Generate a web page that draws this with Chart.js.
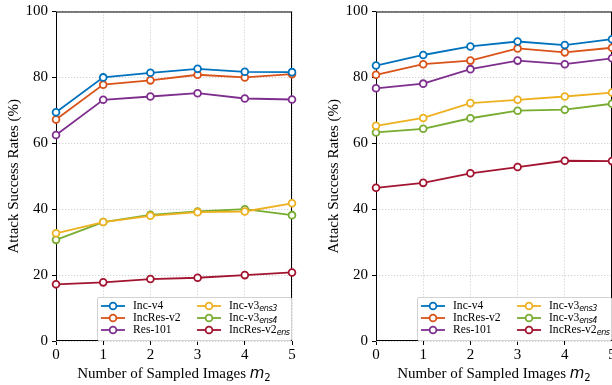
<!DOCTYPE html>
<html>
<head>
<meta charset="utf-8">
<script src="https://cdn.jsdelivr.net/npm/chart.js@4/dist/chart.umd.min.js"></script>
<style>
  html, body { margin: 0; padding: 0; background: #fff; overflow: hidden; }
  #wrap { position: relative; width: 612px; height: 385px; overflow: hidden; }
  canvas { position: absolute; top: 0; }
  .xtitle {
    position: absolute; top: 364px; width: 236px; text-align: center;
    font: 15px "Liberation Serif", serif; line-height: 18px; color: #000; white-space: nowrap;
  }
  .xtitle i { font-family: "DejaVu Sans", sans-serif; font-style: oblique; }
  .xtitle sub { font-family: "DejaVu Sans", sans-serif; font-size: 10px; vertical-align: -3px; }
  .legend {
    position: absolute; top: 297px;
    border: 1px solid #d3d3d3; border-radius: 2px; background: rgba(255,255,255,0.85);
    display: grid; grid-template-rows: repeat(3, 12px); grid-auto-flow: column;
    grid-template-columns: 96px 97px; padding-top: 2px; box-sizing: border-box; height: 44px; width: 195px;
  }
  .item { display: flex; align-items: center; font: 11.6px "Liberation Serif", serif; line-height: 12px; padding-left: 3px; white-space: nowrap; }
  .item svg { margin-right: 8px; flex: none; }
  .item sub { font-family: "DejaVu Sans", sans-serif; font-style: oblique; font-size: 8px; letter-spacing: -0.4px; vertical-align: -2px; line-height: 0; }
</style>
</head>
<body>
<div id="wrap">
  <canvas id="left" width="320" height="385" style="left:0px"></canvas>
  <canvas id="right" width="320" height="385" style="left:320px"></canvas>
</div>
<script>
const steps = [0, 1, 2, 3, 4, 5];
const yTicks = [0, 20, 40, 60, 80, 100];
const seriesNames = ['Inc-v4', 'IncRes-v2', 'Res-101', 'Inc-v3', 'Inc-v3', 'IncRes-v2'];
const seriesSubs = ['', '', '', 'ens3', 'ens4', 'ens'];
const colors = ['#0072BD', '#D95319', '#7E2F8E', '#EDB120', '#77AC30', '#A2142F'];

// left panel
const incV4A = [69.4, 80.0, 81.4, 82.6, 81.7, 81.6];
const incResV2A = [67.2, 77.8, 79.1, 80.8, 80.0, 81.0];
const res101A = [62.5, 73.2, 74.2, 75.2, 73.6, 73.3];
const incV3ens3A = [32.7, 36.1, 38.0, 39.1, 39.3, 41.8];
const incV3ens4A = [30.7, 36.1, 38.3, 39.3, 40.0, 38.2];
const incResV2ensA = [17.2, 17.8, 18.8, 19.2, 20.0, 20.8];

// right panel
const incV4B = [83.6, 86.8, 89.4, 90.9, 89.8, 91.6];
const incResV2B = [80.8, 84.0, 85.1, 88.8, 87.6, 89.0];
const res101B = [76.7, 78.1, 82.5, 85.1, 84.0, 85.8];
const incV3ens3B = [65.3, 67.7, 72.2, 73.2, 74.2, 75.4];
const incV3ens4B = [63.3, 64.4, 67.6, 69.9, 70.2, 72.0];
const incResV2ensB = [46.5, 48.0, 50.9, 52.8, 54.7, 54.6];

const frame = {
  id: 'frame',
  beforeDatasetsDraw(chart) {
    const { ctx, chartArea: a } = chart;
    ctx.save();
    ctx.strokeStyle = '#000';
    ctx.lineWidth = 1;
    ctx.strokeRect(a.left + 0.5, a.top + 0.5, a.width - 1, a.height - 1);
    ctx.restore();
  }
};

function makeChart(id, series) {
  const datasets = series.map((vals, i) => ({
    label: seriesNames[i] + seriesSubs[i],
    data: vals.map((v, j) => ({ x: steps[j], y: v })),
    borderColor: colors[i],
    backgroundColor: colors[i],
    pointBackgroundColor: '#fff',
    pointBorderColor: colors[i],
    pointRadius: 3.4,
    pointBorderWidth: 1.8,
    borderWidth: 1.8,
    clip: false
  }));
  const tickFont = { family: 'Liberation Serif', size: 15, lineHeight: 1 };
  return new Chart(document.getElementById(id), {
    type: 'line',
    data: { datasets },
    plugins: [frame],
    options: {
      responsive: false,
      animation: false,
      layout: { padding: { left: 0, right: 28, top: 8, bottom: 0 } },
      plugins: { legend: { display: false }, tooltip: { enabled: false } },
      scales: {
        x: {
          type: 'linear', min: 0, max: 5,
          afterBuildTicks: s => { s.ticks = steps.map(v => ({ value: v })); },
          afterFit: s => { s.height = 44; },
          ticks: { font: tickFont, color: '#000', padding: 3 },
          grid: { color: '#c4c4c4', lineWidth: 0.8, tickColor: '#000', tickLength: 4, tickWidth: 1 },
          border: { display: false, dash: [1.2, 1.8] }
        },
        y: {
          min: 0, max: 100,
          afterBuildTicks: s => { s.ticks = yTicks.map(v => ({ value: v })); },
          afterFit: s => { s.width = 56; },
          ticks: { font: tickFont, color: '#000', padding: 4 },
          grid: { color: '#c4c4c4', lineWidth: 0.8, tickColor: '#000', tickLength: 4, tickWidth: 1 },
          border: { display: false, dash: [1.2, 1.8] },
          title: {
            display: true, text: 'Attack Success Rates (%)', color: '#000',
            font: { family: 'Liberation Serif', size: 15 }, padding: { top: 5, bottom: 0 }
          }
        }
      }
    }
  });
}

function addDecor(plotLeft) {
  const wrap = document.getElementById('wrap');
  const t = document.createElement('div');
  t.className = 'xtitle';
  t.style.left = plotLeft + 'px';
  t.innerHTML = 'Number of Sampled Images <i>m</i><sub>2</sub>';
  wrap.appendChild(t);

  const lg = document.createElement('div');
  lg.className = 'legend';
  lg.style.left = (plotLeft + 236 - 195) + 'px';
  seriesNames.forEach((name, i) => {
    const it = document.createElement('div');
    it.className = 'item';
    it.innerHTML =
      '<svg width="24" height="10"><line x1="0" y1="5" x2="24" y2="5" stroke="' + colors[i] +
      '" stroke-width="1.8"/><circle cx="12" cy="5" r="3.4" fill="#fff" stroke="' + colors[i] +
      '" stroke-width="1.8"/></svg><span>' + name + (seriesSubs[i] ? '<sub>' + seriesSubs[i] + '</sub>' : '') + '</span>';
    lg.appendChild(it);
  });
  wrap.appendChild(lg);
}

makeChart('left', [incV4A, incResV2A, res101A, incV3ens3A, incV3ens4A, incResV2ensA]);
makeChart('right', [incV4B, incResV2B, res101B, incV3ens3B, incV3ens4B, incResV2ensB]);
addDecor(56);
addDecor(376);
</script>
</body>
</html>
